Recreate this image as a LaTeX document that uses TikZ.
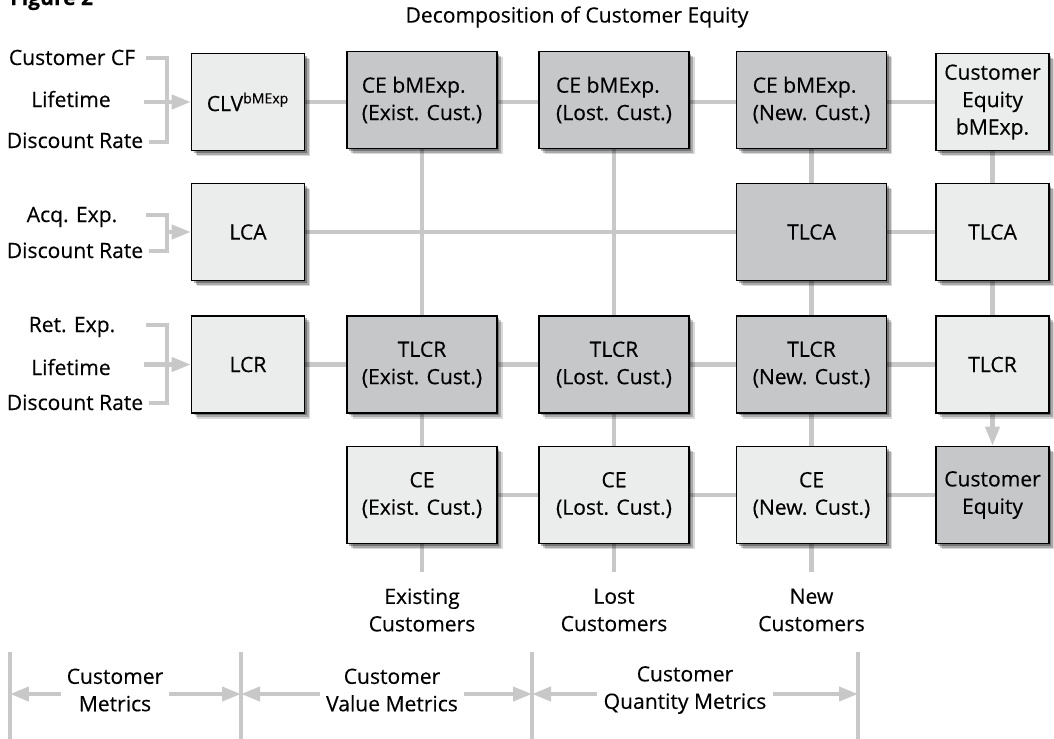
\documentclass[tikz,border=0pt]{standalone}
\usepackage{fontspec}
\setmainfont{Open Sans}[FakeBold=0.3]
\usetikzlibrary{arrows.meta,shadows,backgrounds}
\definecolor{darkbox}{RGB}{198,199,201}
\definecolor{litebox}{RGB}{235,236,236}
\definecolor{linegray}{RGB}{200,200,200}

\begin{document}
\begin{tikzpicture}
[x=0.02cm,y=-0.02cm,font=\fontsize{12}{15.6}\selectfont,
 mbox/.style={draw=black,line width=0.9pt,inner sep=2pt,align=center,minimum height=1.94cm,
   general shadow={fill=black,opacity=0.15,shadow xshift=3.4pt,shadow yshift=-3.4pt},
   general shadow={fill=black,opacity=0.22,shadow xshift=2.3pt,shadow yshift=-2.3pt},
   general shadow={fill=black,opacity=0.3,shadow xshift=1.2pt,shadow yshift=-1.2pt}},
 lt/.style={mbox,fill=litebox}, dk/.style={mbox,fill=darkbox},
 wd/.style={minimum width=3cm}, nw/.style={minimum width=2.26cm},
 lab/.style={anchor=base,inner sep=0pt},
 gl/.style={draw=linegray,line width=2.3pt},
 ga/.style={gl,-{Triangle[length=0.38cm,width=0.28cm]}}]
\useasboundingbox (0,0) rectangle (1054,738);

\node[anchor=base west,font=\bfseries\fontsize{12}{14}\selectfont] (fig) at (4,5) {Figure 2};
\node (ttl) at (577,17) {Decomposition of Customer Equity};

% inputs
\node[lab] (cf) at (72,65) {Customer CF};
\node[lab] (lt1) at (71,107) {Lifetime};
\node[lab] (dr1) at (75,148) {Discount Rate};
\node[lab] (ae) at (72,222) {Acq. Exp.};
\node[lab] (dr2) at (75,258) {Discount Rate};
\node[lab] (re) at (72,332) {Ret. Exp.};
\node[lab] (lt3) at (71,375) {Lifetime};
\node[lab] (dr3) at (75,410) {Discount Rate};

% row 1
\node[lt,nw] (clv) at (248,102) {CLV\textsuperscript{bMExp}};
\node[dk,wd,align=left] (cbe) at (422,100) {CE bMExp.\\(Exist. Cust.)};
\node[dk,wd,align=left] (cbl) at (614,100) {CE bMExp.\\(Lost. Cust.)};
\node[dk,wd,align=left] (cbn) at (811.5,100) {CE bMExp.\\(New. Cust.)};
\node[lt,nw] (ceb) at (992.5,102) {Customer\\Equity\\bMExp.};
% row 2
\node[lt,nw] (lca) at (248,232) {LCA};
\node[dk,wd] (tlcan) at (811.5,232) {TLCA};
\node[lt,nw] (tlca) at (992.5,232) {TLCA};
% row 3
\node[lt,nw] (lcr) at (248,364.5) {LCR};
\node[dk,wd] (tlcre) at (422,364.5) {TLCR\\(Exist. Cust.)};
\node[dk,wd] (tlcrl) at (614,364.5) {TLCR\\(Lost. Cust.)};
\node[dk,wd] (tlcrn) at (811.5,364.5) {TLCR\\(New. Cust.)};
\node[lt,nw] (tlcr) at (992.5,364.5) {TLCR};
% row 4
\node[lt,wd] (cee) at (422,495) {CE\\(Exist. Cust.)};
\node[lt,wd] (cel) at (614,495) {CE\\(Lost. Cust.)};
\node[lt,wd] (cen) at (811.5,495) {CE\\(New. Cust.)};
\node[dk,nw] (ce) at (992.5,495) {Customer\\Equity};

% segments
\node[align=center] (exl) at (422,610) {Existing\\Customers};
\node[align=center] (lol) at (614,610) {Lost\\Customers};
\node[align=center] (nwl) at (811.5,610) {New\\Customers};
\node[align=center] (cml) at (115,690) {Customer\\Metrics};
\node[align=center] (cvl) at (392,690) {Customer\\Value Metrics};
\node[align=center] (cql) at (685,690) {Customer\\Quantity Metrics};

\begin{scope}[on background layer]
\draw[gl] (146,58) -| (167,142) -- (149,142);
\draw[ga] (144,102) -- (clv.west);
\draw[gl] (146,215) -| (167,251) -- (149,251);
\draw[ga] (167,232) -- (lca.west);
\draw[gl] (146,325) -| (167,403) -- (149,403);
\draw[ga] (144,364.5) -- (lcr.west);

\draw[gl] (clv.east) -- (ceb.west);
\draw[gl] (lca.east) -- (tlca.west);
\draw[gl] (lcr.east) -- (tlcr.west);
\draw[gl] (cee.east) -- (ce.west);

\draw[gl,shorten >=0.2cm] (cbe.south) -- (exl.north);
\draw[gl,shorten >=0.2cm] (cbl.south) -- (lol.north);
\draw[gl,shorten >=0.2cm] (cbn.south) -- (nwl.north);
\draw[gl] (ceb.south) -- (tlca.north);
\draw[gl] (tlca.south) -- (tlcr.north);
\draw[ga] (tlcr.south) -- (ce.north);

\foreach \x/\n in {10/ta,241/tb,532/tc,858/td}{
  \draw[gl] (\x,652) -- (\x,745);
  \coordinate (\n) at (\x,694);
}
\draw[ga] (cml.west |- ta) -- (ta);
\draw[ga] (cml.east |- ta) -- (tb);
\draw[ga] (cvl.west |- tb) -- (tb);
\draw[ga] (cvl.east |- tb) -- (tc);
\draw[ga] (cql.west |- tc) -- (tc);
\draw[ga] (cql.east |- tc) -- (td);
\end{scope}
\end{tikzpicture}
\end{document}
